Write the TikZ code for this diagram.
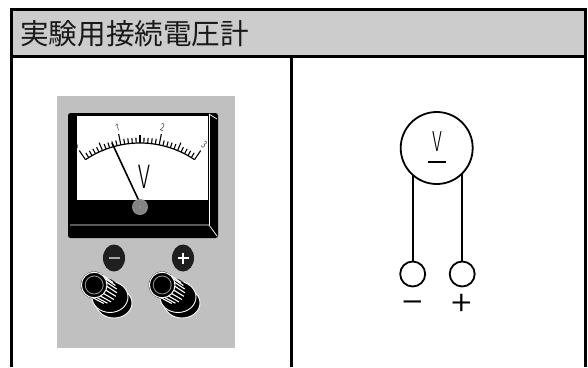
\documentclass[tikz,border=0pt]{standalone}
\usepackage{fontspec}
\newfontfamily\cjk{Noto Sans CJK JP}
\newfontfamily\lite{Fira Sans Light}
\newfontfamily\hair{Fira Sans ExtraLight}
\usetikzlibrary{calc}
\definecolor{hdrgray}{HTML}{CCCCCC}
\definecolor{panelgray}{HTML}{C0C0C0}
\definecolor{knobgray}{HTML}{8A8A8A}
\begin{document}
\begin{tikzpicture}[x=1pt,y=-1pt,
  frame/.style={line width=3pt,black},
  tick/.style={line width=1.1pt,black},
  lead/.style={line width=1.8pt,black},
  term/.style={circle,draw,line width=1.8pt,minimum size=25pt,inner sep=0pt},
  sign/.style={inner sep=0pt,font=\hair\fontsize{50}{50}\selectfont},
  whiteline/.style={white,line width=0.7pt}]
\useasboundingbox (0,0) rectangle (588,367);
\fill[white] (0,0) rectangle (588,367);

% header band
\fill[hdrgray] (11,9.5) rectangle (585.5,56);
\node[anchor=west,inner sep=0pt,text=black!90] (title) at (20,34)
  {\cjk\fontsize{28.6}{31}\selectfont 実験用接続電圧計};

% table lines
\draw[frame] (11,367) -- (11,9.5) -- (585.5,9.5) -- (585.5,367);
\draw[frame] (11,56) -- (585.5,56);
\draw[frame] (291,56) -- (291,367);

% ---------- photo of the meter ----------
\fill[panelgray] (57,96) rectangle (235,348);

% case with bevelled right and bottom edges
\fill[black,rounded corners=2.5pt] (68,113) rectangle (218,238);
\draw[whiteline] (209,114) -- (217,119);
\draw[whiteline] (209,114) -- (209,225);
\draw[whiteline] (70,225) -- (209,225) -- (217,236);
% dial face
\fill[white] (77,116) rectangle (208,200);

% scale arc, ticks and numbers
\draw[line width=1.2pt] plot[domain=-34:34,samples=40]
  ({140+97.5*sin(\x)},{240.5-97.5*cos(\x)});
\foreach \i in {0,...,30}{
  \pgfmathsetmacro\a{-34+68*\i/30}
  \pgfmathsetmacro\L{ifthenelse(mod(\i,10)==0,11,ifthenelse(mod(\i,5)==0,8.5,5.5))}
  \draw[tick] ({140+97.5*sin(\a)},{240.5-97.5*cos(\a)}) --
              ({140+(97.5+\L)*sin(\a)},{240.5-(97.5+\L)*cos(\a)});
}
\foreach \n in {0,1,2,3}{
  \pgfmathsetmacro\a{-34+68*\n/3}
  \node[rotate=-\a,inner sep=0pt,xscale=0.8] (num\n) at
    ({140+(97.5+17.5)*sin(\a)},{240.5-(97.5+17.5)*cos(\a)})
    {\lite\fontsize{10.5}{10.5}\selectfont \n};
}
% needle
\draw[line width=1.6pt] (139,201) -- (112,143);
% unit
\node[inner sep=0pt,xscale=0.66] (unit) at (144,177) {\lite\fontsize{34}{34}\selectfont V};

% zero adjuster
\fill[knobgray] (140,207) circle (8);
\draw[black!55,line width=0.5pt] (140,207) circle (5.5);
\draw[black!55,line width=0.5pt] (140,207) circle (3);
\fill[black!45] (140,207) circle (1.2);

% polarity buttons
\fill[black!88] (114,258) ellipse (11 and 13.5);
\draw[gray!70,line width=2pt] (108.5,258) -- (119.5,258);
\fill[black!88] (183,258) ellipse (11 and 13.5);
\draw[white,line width=1.8pt] (177.5,258) -- (188.5,258);
\draw[white,line width=1.8pt] (183,252.5) -- (183,263.5);

% binding posts: base, nut, knurled barrel, front cap
\foreach \dx in {0,68}{
  \begin{scope}[xshift=\dx pt]
    \filldraw[black,draw=white,line width=0.9pt] (114,303) ellipse (18 and 15);
    \filldraw[black,draw=white,line width=0.9pt] (110,297) ellipse (18 and 15.5);
    \fill[black] (94.2,285) circle (13.5);
    \fill[black] (106,292) circle (13.5);
    \fill[black] ($(94.2,285)+(-30:13.5)$) -- ($(106,292)+(-30:13.5)$)
      -- ($(106,292)+(150:13.5)$) -- ($(94.2,285)+(150:13.5)$) -- cycle;
    \foreach \t in {-48,-30,...,110}{
      \draw[white,line width=1.1pt] ({94.2+12.8*cos(\t)},{285+12.8*sin(\t)}) --
                                    ({105+12*cos(\t)},{291.5+12*sin(\t)});
    }
    \filldraw[black,draw=white,line width=1pt] (94.2,285) circle (12.8);
    \draw[gray!80,line width=0.8pt] (94.2,285) circle (9);
  \end{scope}
}

% ---------- circuit symbol ----------
\node[circle,draw,line width=1.8pt,minimum size=72pt,inner sep=0pt] (meter) at (436.7,148) {};
\node[inner sep=0pt,xscale=0.62] (sym) at (437,141.5) {\lite\fontsize{29}{29}\selectfont V};
\draw[line width=1.5pt] (428,162) -- (446,162);
\node[term] (tm) at (412.7,274) {};
\node[term] (tp) at (462.2,274) {};
\draw[lead] (tm.north) -- (tm |- meter.228);
\draw[lead] (tp.north) -- (tp |- meter.315);
\node[sign] (minus) at (412.7,305.5) {\vphantom{+}−};
\node[sign] (plus) at (461.5,307) {+};
\end{tikzpicture}
\end{document}
